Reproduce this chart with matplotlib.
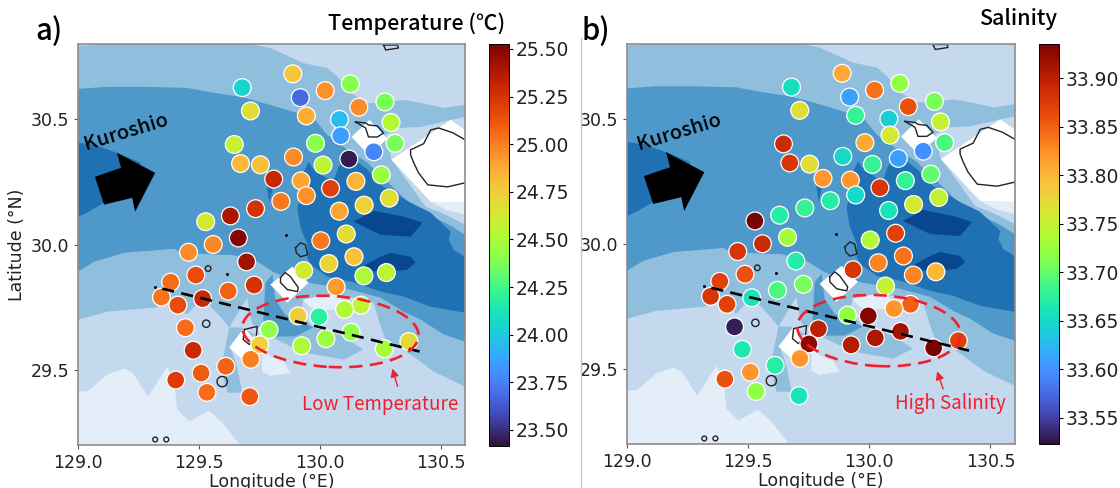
"""Surface temperature and salinity at the stations, over the bathymetry bands."""
import matplotlib
matplotlib.use("Agg")
import matplotlib.pyplot as plt  # noqa: E402
from matplotlib.cm import ScalarMappable  # noqa: E402
from matplotlib.colors import Normalize  # noqa: E402
from matplotlib.lines import Line2D  # noqa: E402
from matplotlib.patches import Ellipse  # noqa: E402

# stations, same order in both panels
LON = [129.679, 129.888, 130.126, 130.022, 129.919, 130.161, 130.269, 129.713, 129.944, 130.081,
       130.294, 130.086, 130.311, 129.646, 129.982, 130.223, 129.891, 129.672, 129.754, 130.013,
       130.120, 130.254, 129.809, 129.922, 130.149, 130.044, 129.944, 130.287, 129.839, 130.183,
       129.734, 130.080, 129.630, 129.528, 129.663, 130.109, 130.004, 129.559, 129.457, 129.697,
       130.141, 130.037, 129.933, 129.487, 130.182, 130.275, 129.383, 129.728, 129.621, 130.067,
       129.345, 129.515, 129.413, 130.170, 130.102, 129.910, 129.996, 129.790, 129.444, 130.129,
       130.368, 130.025, 129.751, 129.925, 130.266, 129.476, 129.714, 129.611, 129.509, 129.404,
       129.533, 129.710]
LAT = [30.626, 30.681, 30.641, 30.614, 30.586, 30.548, 30.569, 30.533, 30.513, 30.499,
       30.487, 30.434, 30.404, 30.399, 30.404, 30.370, 30.349, 30.323, 30.318, 30.317,
       30.341, 30.278, 30.261, 30.254, 30.252, 30.224, 30.195, 30.185, 30.172, 30.157,
       30.143, 30.133, 30.114, 30.091, 30.026, 30.042, 30.015, 30.000, 29.969, 29.931,
       29.951, 29.924, 29.896, 29.878, 29.875, 29.888, 29.850, 29.838, 29.814, 29.831,
       29.790, 29.784, 29.758, 29.758, 29.741, 29.715, 29.712, 29.660, 29.668, 29.650,
       29.613, 29.624, 29.600, 29.596, 29.584, 29.578, 29.542, 29.514, 29.487, 29.459,
       29.410, 29.393]
TEMP = [24.05, 24.78, 24.40, 24.95, 23.68, 24.97, 24.37, 24.68, 24.87, 23.95,
        24.52, 23.85, 24.37, 24.58, 24.40, 23.77, 24.97, 24.82, 24.80, 24.55,
        23.45, 24.45, 25.30, 24.90, 24.85, 25.20, 24.95, 24.68, 25.02, 24.72,
        25.25, 24.90, 25.40, 24.63, 25.50, 24.68, 25.02, 24.98, 24.97, 25.42,
        24.80, 24.72, 24.62, 25.15, 24.50, 24.55, 25.05, 25.25, 25.08, 24.92,
        25.03, 25.30, 25.15, 24.55, 24.52, 24.75, 24.20, 24.42, 25.05, 24.42,
        24.70, 24.45, 24.72, 24.50, 24.48, 25.30, 25.00, 25.08, 25.10, 25.22,
        25.05, 25.12]
SAL = [33.655, 33.81, 33.72, 33.84, 33.61, 33.86, 33.71, 33.77, 33.68, 33.64,
       33.75, 33.76, 33.69, 33.89, 33.81, 33.60, 33.65, 33.88, 33.77, 33.68,
       33.61, 33.70, 33.82, 33.82, 33.68, 33.88, 33.65, 33.75, 33.67, 33.76,
       33.68, 33.66, 33.67, 33.94, 33.73, 33.87, 33.74, 33.89, 33.88, 33.67,
       33.84, 33.83, 33.88, 33.86, 33.83, 33.80, 33.87, 33.71, 33.69, 33.75,
       33.88, 33.66, 33.87, 33.85, 33.82, 33.72, 33.93, 33.90, 33.53, 33.915,
       33.87, 33.91, 33.925, 33.905, 33.935, 33.665, 33.82, 33.67, 33.82, 33.86,
       33.72, 33.66]

# depth bands, painted from shallow to deep: (lon, lat) outlines
MID_LON = [129.0, 129.112, 129.712, 129.795, 129.932, 130.031, 130.073, 130.127, 130.197, 130.263,
           130.346, 130.417, 130.512, 130.6, 130.6, 130.541, 130.417, 130.325, 130.272, 130.296,
           130.334, 130.437, 130.52, 130.6, 130.6, 130.47, 130.404, 130.346, 130.272, 130.251,
           130.222, 130.139, 130.031, 129.932, 129.92, 129.973, 130.098, 130.18, 130.098, 129.932,
           129.795, 129.762, 129.721, 129.708, 129.7, 129.625, 129.592, 129.514, 129.451, 129.385,
           129.315, 129.12, 129.0]
MID_LAT = [30.792, 30.8, 30.8, 30.784, 30.724, 30.704, 30.669, 30.605, 30.565, 30.565,
           30.577, 30.565, 30.545, 30.557, 30.509, 30.497, 30.469, 30.465, 30.437, 30.338,
           30.29, 30.151, 30.119, 30.079, 29.433, 29.493, 29.541, 29.581, 29.621, 29.673,
           29.768, 29.788, 29.8, 29.78, 29.728, 29.669, 29.633, 29.581, 29.541, 29.569,
           29.633, 29.661, 29.681, 29.732, 29.788, 29.669, 29.708, 29.788, 29.72, 29.772,
           29.748, 29.732, 29.7]
MID_LOBE_LON = [129.625, 129.675, 129.733, 129.67, 129.634, 129.659, 129.679, 129.617, 129.592]
MID_LOBE_LAT = [29.669, 29.669, 29.64, 29.6, 29.581, 29.509, 29.409, 29.409, 29.509]
MEDIUM_LON = [129.0, 129.12, 129.282, 129.451, 129.563, 129.675, 129.795, 129.973, 130.031, 130.114,
              130.197, 130.284, 130.375, 130.458, 130.541, 130.6, 130.6, 130.512, 130.417, 130.346,
              130.251, 130.127, 130.023, 129.953, 129.886, 129.812, 129.729, 129.634, 129.592, 129.427,
              129.398, 129.191, 129.066, 129.0]
MEDIUM_LAT = [30.621, 30.629, 30.629, 30.625, 30.605, 30.589, 30.557, 30.505, 30.437, 30.378,
              30.326, 30.246, 30.159, 30.115, 30.075, 30.039, 29.613, 29.641, 29.7, 29.732,
              29.788, 29.82, 29.836, 29.848, 29.86, 29.888, 29.939, 29.959, 29.959, 29.967,
              29.983, 29.967, 29.931, 29.892]
MEDIUM_BLOB_LON = [129.775, 129.804, 129.816, 129.857, 129.973, 129.899, 129.795, 129.766]
MEDIUM_BLOB_LAT = [29.848, 29.88, 29.78, 29.72, 29.669, 29.633, 29.633, 29.7]
DARK_LON = [129.907, 129.932, 129.953, 129.982, 130.056, 130.077, 130.118, 130.197, 130.263, 130.375,
            130.458, 130.541, 130.533, 130.553, 130.6, 130.6, 130.458, 130.346, 130.251, 130.168,
            130.127, 130.031, 129.961, 129.949, 129.949, 129.92]
DARK_LAT = [30.139, 30.286, 30.33, 30.29, 30.25, 30.31, 30.358, 30.298, 30.23, 30.167,
            30.127, 30.051, 30.019, 29.979, 29.951, 29.728, 29.752, 29.792, 29.812, 29.84,
            29.852, 29.872, 29.92, 29.947, 29.999, 30.067]
DARK_WEST_LON = [129.0, 129.066, 129.161, 129.261, 129.236, 129.108, 129.037, 129.0]
DARK_WEST_LAT = [30.406, 30.398, 30.366, 30.326, 30.238, 30.167, 30.127, 30.111]
DARK_SLIVER_LON = [129.779, 129.791, 129.804]
DARK_SLIVER_LAT = [30.246, 30.167, 30.218]
DEEP_A_LON = [130.139, 130.222, 130.346, 130.425, 130.375, 130.251]
DEEP_A_LAT = [30.091, 30.135, 30.111, 30.087, 30.031, 30.039]
DEEP_B_LON = [130.168, 130.251, 130.292, 130.375, 130.396, 130.363, 130.251]
DEEP_B_LAT = [29.908, 29.951, 29.967, 29.951, 29.928, 29.9, 29.888]
PALE_A_LON = [129.0, 129.04, 129.12, 129.19, 129.225, 129.29, 129.37, 129.40, 129.41, 129.46,
              129.535, 129.545, 129.595, 129.67, 129.0]
PALE_A_LAT = [29.414, 29.414, 29.481, 29.505, 29.489, 29.394, 29.513, 29.433, 29.342, 29.294,
              29.334, 29.334, 29.29, 29.2, 29.2]
PALE_B_LON = [129.762, 129.795, 129.849, 129.878, 129.795, 129.762]
PALE_B_LAT = [29.581, 29.553, 29.533, 29.489, 29.477, 29.493]
PALE_C_LON = [129.928, 130.031, 130.077, 130.127, 130.002, 129.961]
PALE_C_LAT = [29.78, 29.8, 29.792, 29.74, 29.74, 29.748]
PALE_D_LON = [130.458, 130.6, 130.6, 130.52]
PALE_D_LAT = [30.171, 30.167, 30.119, 30.139]

# the blanked cells around the islands
LAND_A_LON = [130.131, 130.205, 130.28, 130.201]
LAND_A_LAT = [30.429, 30.497, 30.422, 30.358]
LAND_B_LON = [130.296, 130.541, 130.6, 130.6, 130.458]
LAND_B_LAT = [30.338, 30.497, 30.457, 30.167, 30.171]
LAND_C_LON = [129.795, 129.886, 129.953, 129.866]
LAND_C_LAT = [29.84, 29.912, 29.848, 29.768]
LAND_D_LON = [129.625, 129.688, 129.737, 129.688]
LAND_D_LAT = [29.589, 29.669, 29.609, 29.533]

# coast outlines
COAST_A_LON = [130.147, 130.189, 130.201, 130.238, 130.263, 130.238, 130.201, 130.189, 130.147]
COAST_A_LAT = [30.489, 30.485, 30.477, 30.473, 30.445, 30.429, 30.429, 30.465, 30.489]
COAST_B_LON = [130.6, 130.549, 130.491, 130.458, 130.429, 130.375, 130.375, 130.388, 130.408, 130.446, 130.528, 130.6]
COAST_B_LAT = [30.418, 30.446, 30.465, 30.457, 30.402, 30.378, 30.358, 30.326, 30.286, 30.238, 30.23, 30.246]
COAST_C_LON = [129.837, 129.857, 129.878, 129.911, 129.907, 129.866, 129.837, 129.837]
COAST_C_LAT = [29.868, 29.888, 29.872, 29.828, 29.812, 29.82, 29.848, 29.868]
COAST_D_LON = [129.688, 129.741, 129.737, 129.708, 129.683, 129.688]
COAST_D_LAT = [29.661, 29.673, 29.633, 29.601, 29.621, 29.661]
COAST_E_LON = [129.899, 129.92, 129.94, 129.949, 129.92, 129.903, 129.899]
COAST_E_LAT = [29.987, 30.007, 29.999, 29.959, 29.951, 29.967, 29.987]
COAST_F_LON = [130.263, 130.321, 130.325, 130.272, 130.263]
COAST_F_LAT = [30.796, 30.796, 30.784, 30.776, 30.796]
ISLET_LON = [129.538, 129.530, 129.596, 129.319, 129.365]
ISLET_LAT = [29.904, 29.684, 29.453, 29.222, 29.222]
ROCK_LON = [129.617, 129.319, 129.862]
ROCK_LAT = [29.884, 29.832, 30.039]

ARROW_LON = [129.161, 129.319, 129.236, 129.224, 129.108, 129.070, 129.178]
ARROW_LAT = [30.366, 30.286, 30.131, 30.186, 30.159, 30.270, 30.306]
SECTION_LON = [129.348, 130.412]
SECTION_LAT = [29.824, 29.573]

TEMP_TICKS = [23.50, 23.75, 24.00, 24.25, 24.50, 24.75, 25.00, 25.25, 25.50]
SAL_TICKS = [33.55, 33.60, 33.65, 33.70, 33.75, 33.80, 33.85, 33.90]

C_PALE = "#e4eef9"
C_SHELF = "#c5d9ee"
C_MID = "#90bfde"
C_MEDIUM = "#4e99ca"
C_DARK = "#2070b4"
C_DEEP = "#08478e"
RED = "#f0202e"
CJK = ["Noto Sans CJK JP", "DejaVu Sans"]
W, H = 1120, 488


def add_axes_px(fig, x0, y0, x1, y1):
    return fig.add_axes([x0 / W, 1 - y1 / H, (x1 - x0) / W, (y1 - y0) / H])


def draw_map(ax):
    ax.set_facecolor(C_SHELF)
    bands = [
        (PALE_A_LON, PALE_A_LAT, C_PALE), (PALE_B_LON, PALE_B_LAT, C_PALE),
        (MID_LON, MID_LAT, C_MID), (MID_LOBE_LON, MID_LOBE_LAT, C_MID),
        (PALE_B_LON, PALE_B_LAT, C_PALE), (PALE_C_LON, PALE_C_LAT, C_PALE),
        (PALE_D_LON, PALE_D_LAT, C_PALE),
        (MEDIUM_LON, MEDIUM_LAT, C_MEDIUM), (MEDIUM_BLOB_LON, MEDIUM_BLOB_LAT, C_MEDIUM),
        (DARK_LON, DARK_LAT, C_DARK), (DARK_WEST_LON, DARK_WEST_LAT, C_DARK),
        (DARK_SLIVER_LON, DARK_SLIVER_LAT, C_DARK),
        (DEEP_A_LON, DEEP_A_LAT, C_DEEP), (DEEP_B_LON, DEEP_B_LAT, C_DEEP),
        (LAND_A_LON, LAND_A_LAT, "white"), (LAND_B_LON, LAND_B_LAT, "white"),
        (LAND_C_LON, LAND_C_LAT, "white"), (LAND_D_LON, LAND_D_LAT, "white"),
    ]
    for lon, lat, c in bands:
        ax.fill(lon, lat, color=c, lw=0, zorder=1)
    coasts = [(COAST_A_LON, COAST_A_LAT), (COAST_B_LON, COAST_B_LAT), (COAST_C_LON, COAST_C_LAT),
              (COAST_D_LON, COAST_D_LAT), (COAST_E_LON, COAST_E_LAT), (COAST_F_LON, COAST_F_LAT)]
    for lon, lat in coasts:
        ax.plot(lon, lat, color="#222222", lw=1.0, zorder=2)
    ax.scatter(ISLET_LON, ISLET_LAT, s=[16, 28, 55, 12, 12], facecolor="none", edgecolor="#222222",
               lw=1.0, zorder=2)
    ax.scatter(ROCK_LON, ROCK_LAT, s=5, color="#111111", lw=0, zorder=2)


def draw_panel(fig, box, cbox, values, vmin, vmax, ticks, ell_w, ell_lon, note, note_lon, tip, tail, kuro_lon):
    ax = add_axes_px(fig, *box)
    draw_map(ax)
    norm = Normalize(vmin, vmax)
    ax.scatter(LON, LAT, c=values, cmap="turbo", norm=norm, s=165, edgecolor="white", lw=0.9, zorder=3)
    ax.plot(SECTION_LON, SECTION_LAT, color="black", lw=1.9, dashes=(4.6, 2.8), zorder=5)
    ax.add_patch(Ellipse((ell_lon, 29.653), ell_w, 0.283, angle=-3, fill=False, edgecolor=RED,
                         lw=1.9, ls=(0, (5, 2.8)), zorder=6))
    ax.annotate("", xy=tip, xytext=tail, zorder=6,
                arrowprops=dict(arrowstyle="-|>", color=RED, lw=1.0, mutation_scale=12, shrinkA=0, shrinkB=0))
    ax.text(note_lon, 29.362, note, color=RED, fontsize=13.5, ha="center", va="center",
            family=CJK, zorder=6)
    ax.fill(ARROW_LON, ARROW_LAT, color="black", lw=0, zorder=4)
    ax.text(kuro_lon, 30.447, "Kuroshio", rotation=17, rotation_mode="anchor", fontsize=14.5,
            fontweight="medium", ha="center", va="center", family=CJK, zorder=4)

    ax.set_xlim(129.0, 130.6)
    ax.set_ylim(29.2, 30.8)
    ax.set_xticks([129.0, 129.5, 130.0, 130.5], ["129.0", "129.5", "130.0", "130.5"])
    ax.set_yticks([29.5, 30.0, 30.5], ["29.5", "30.0", "30.5"])
    ax.tick_params(labelsize=12.5, length=3, width=0.8, color="#555555", labelcolor="#222222")
    ax.set_xlabel("Longitude (°E)", fontsize=12.5, color="#222222", labelpad=1)
    for s in ax.spines.values():
        s.set_color("#8c8c8c")
        s.set_linewidth(1.2)

    cax = add_axes_px(fig, *cbox)
    cb = fig.colorbar(ScalarMappable(norm=norm, cmap="turbo"), cax=cax)
    cb.set_ticks(ticks, labels=[f"{t:.2f}" for t in ticks])
    cb.ax.tick_params(labelsize=13.5, length=3, width=0.8, labelcolor="#222222", pad=2)
    cb.outline.set_linewidth(0.7)
    return ax


def main():
    fig = plt.figure(figsize=(W / 100, H / 100), dpi=100)

    ax = draw_panel(fig, (78, 44, 465, 445), (488.6, 44, 509, 445.5), TEMP, 23.418, 25.526, TEMP_TICKS,
                    0.729, 130.044, "Low Temperature", 130.249, (130.30, 29.505), (130.321, 29.434), 129.198)
    ax.set_ylabel("Latitude (°N)", fontsize=12.5, color="#222222", labelpad=3)
    draw_panel(fig, (627, 43.5, 1014.6, 444), (1038.6, 43.5, 1058.6, 444), SAL, 33.523, 33.936, SAL_TICKS,
               0.675, 130.04, "High Salinity", 130.334, (130.28, 29.49), (130.305, 29.42), 129.215)

    # separator between the panels
    fig.add_artist(Line2D([580.7 / W, 580.7 / W], [0, 1 - 38 / H], color="#c8c8c8", lw=1.0))

    fig.text(35 / W, 1 - 31 / H, "a)", fontsize=21, fontweight="medium", family=CJK, va="center")
    fig.text(581 / W, 1 - 31 / H, "b)", fontsize=21, fontweight="medium", family=CJK, va="center")
    fig.text(416.5 / W, 1 - 24 / H, "Temperature (℃)", fontsize=15.5, fontweight="medium", family=CJK,
             ha="center", va="center")
    fig.text(1018 / W, 1 - 19.5 / H, "Salinity", fontsize=15.5, fontweight="medium", family=CJK,
             ha="center", va="center")

    fig.savefig("out.png", dpi=100)


if __name__ == "__main__":
    main()
